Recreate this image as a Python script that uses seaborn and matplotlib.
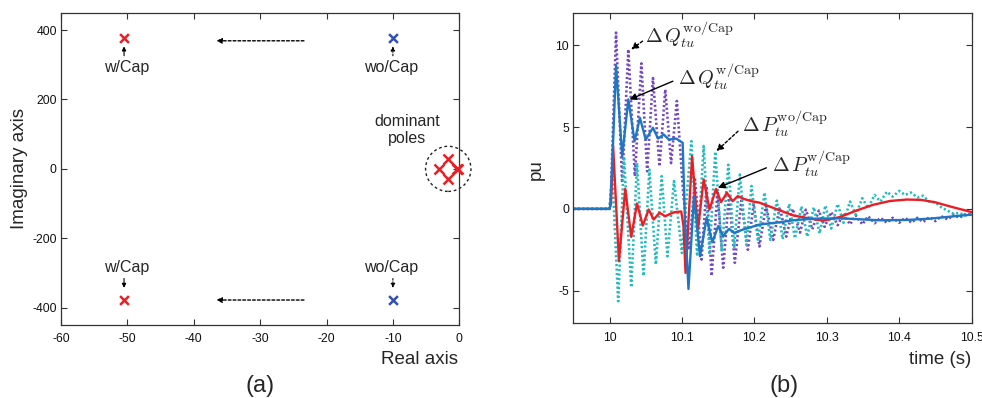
import numpy as np
import pandas as pd
import matplotlib
matplotlib.use("Agg")
import matplotlib.pyplot as plt
import seaborn as sns
from matplotlib.patches import Ellipse

# ---------------- data: pole map ----------------
pole_re_wcap = [-50.5, -50.5]
pole_im_wcap = [377, -377]
pole_re_wocap = [-10.0, -10.0]
pole_im_wocap = [377, -377]
dom_re = [-1.66, -3.1, -1.66, -0.35, -0.15]
dom_im = [27, -1, -28, 0, 0]

# ---------------- data: time responses ----------------
t_q_wo = [9.95, 10.0, 10.002, 10.009, 10.0175, 10.026, 10.035, 10.044, 10.052, 10.060,
          10.069, 10.077, 10.085, 10.093, 10.102, 10.110, 10.118, 10.127, 10.134, 10.141,
          10.149, 10.157, 10.165, 10.173, 10.182, 10.191, 10.199, 10.207, 10.216, 10.226,
          10.235, 10.244, 10.253, 10.263, 10.271, 10.280, 10.289, 10.297, 10.306, 10.315,
          10.323, 10.332, 10.340, 10.349, 10.357, 10.366, 10.374, 10.383, 10.391, 10.400,
          10.408, 10.417, 10.425, 10.433, 10.442, 10.450, 10.458, 10.467, 10.475, 10.483,
          10.492, 10.5]
q_wo = [0, 0, 1.0, 10.78, 1.6, 9.76, 2.0, 8.9, 2.3, 8.0,
        2.6, 7.3, 2.8, 6.6, 0.8, -2.5, 1.8, -3.1, 1.4, -4.1,
        1.0, -3.6, 0.8, -3.3, 0.5, -2.5, 0.3, -2.3, 0.2, -1.9,
        0.1, -1.7, 0.0, -1.45, -0.05, -1.25, -0.1, -1.1, -0.2, -1.0,
        -0.3, -0.95, -0.4, -0.95, -0.45, -0.88, -0.55, -0.85, -0.55, -0.85,
        -0.55, -0.85, -0.55, -0.8, -0.5, -0.75, -0.45, -0.65, -0.35, -0.55,
        -0.3, -0.35]

t_p_wo = [9.95, 10.0, 10.004, 10.012, 10.020, 10.030, 10.038, 10.047, 10.055, 10.064,
          10.072, 10.080, 10.089, 10.100, 10.113, 10.121, 10.130, 10.138, 10.146, 10.155,
          10.164, 10.172, 10.180, 10.189, 10.196, 10.205, 10.214, 10.222, 10.231, 10.239,
          10.248, 10.256, 10.265, 10.273, 10.282, 10.290, 10.298, 10.306, 10.315, 10.323,
          10.332, 10.340, 10.349, 10.357, 10.366, 10.374, 10.383, 10.391, 10.400, 10.408,
          10.416, 10.425, 10.433, 10.441, 10.450, 10.458, 10.466, 10.475, 10.483, 10.491,
          10.5]
p_wo = [0, 0, 2.0, -5.65, 3.2, -4.8, 2.8, -4.1, 2.4, -3.4,
        2.0, -2.9, 1.7, -2.7, 4.14, -2.9, 3.84, -2.8, 3.5, -2.6,
        2.7, -2.4, 2.1, -2.2, 1.4, -2.0, 1.0, -1.9, 0.5, -1.85,
        0.3, -1.8, 0.15, -1.7, 0.1, -1.5, 0.2, -1.2, 0.3, -0.85,
        0.45, -0.35, 0.65, 0.05, 0.85, 0.45, 1.05, 0.75, 1.1, 0.85,
        1.0, 0.7, 0.8, 0.45, 0.4, 0.1, -0.1, -0.3, -0.25, -0.4,
        -0.35]

t_p_w = [9.95, 10.0, 10.002, 10.005, 10.013, 10.0217, 10.030, 10.038, 10.046, 10.054,
         10.061, 10.069, 10.077, 10.084, 10.090, 10.099, 10.102, 10.105, 10.114, 10.122,
         10.130, 10.138, 10.147, 10.154, 10.162, 10.170, 10.177, 10.186, 10.196, 10.207,
         10.226, 10.253, 10.277, 10.295, 10.318, 10.341, 10.364, 10.387, 10.41, 10.43,
         10.45, 10.47, 10.5]
p_w = [0, 0, 0.3, 3.84, -3.2, 1.22, -1.71, 0.33, -1.02, -0.04,
       -0.65, -0.24, -0.45, -0.3, -0.2, -0.16, -1.0, -3.92, 3.22, -1.27,
       1.8, -0.04, 1.22, 0.41, 0.98, 0.47, 0.78, 0.6, 0.47, 0.38,
       0.06, -0.39, -0.6, -0.72, -0.5, -0.1, 0.25, 0.48, 0.57, 0.55,
       0.4, 0.15, -0.2]

t_q_w = [9.95, 10.0, 10.001, 10.004, 10.009, 10.0175, 10.026, 10.0346, 10.042, 10.050,
         10.060, 10.067, 10.0747, 10.082, 10.092, 10.101, 10.104, 10.109, 10.1166, 10.125,
         10.134, 10.142, 10.150, 10.157, 10.165, 10.172, 10.184, 10.207, 10.235, 10.253,
         10.281, 10.32, 10.373, 10.41, 10.442, 10.5]
q_w = [0, 0, 0.2, 3.0, 8.78, 3.2, 6.7, 4.14, 5.57, 4.24,
       4.96, 4.3, 4.55, 4.24, 4.3, 4.04, -0.5, -4.9, 0.78, -2.9,
       -0.55, -2.04, -1.06, -1.67, -1.22, -1.47, -1.27, -0.96, -0.82, -0.70,
       -0.60, -0.58, -0.70, -0.68, -0.60, -0.35]

x_ticks_a = [-60, -50, -40, -30, -20, -10, 0]
y_ticks_a = [-400, -200, 0, 200, 400]
x_ticks_b = [10, 10.1, 10.2, 10.3, 10.4, 10.5]
x_ticklabels_b = ["10", "10.1", "10.2", "10.3", "10.4", "10.5"]
y_ticks_b = [-5, 0, 5, 10]

# ---------------- style ----------------
sns.set_style("ticks")
plt.rcParams["font.family"] = ["Liberation Sans", "DejaVu Sans"]
plt.rcParams["mathtext.fontset"] = "cm"
plt.rcParams["axes.unicode_minus"] = False

RED = "#ee1d23"
NAVY = "#3350b0"
BLUE = "#1f77c4"
PURPLE = "#7448c0"
CYAN = "#22bcc0"
SPINE = "#333333"

fig = plt.figure(figsize=(9.82, 3.98), dpi=100)
ax_a = fig.add_axes([0.0621, 0.1834, 0.4056, 0.7847])
ax_b = fig.add_axes([0.5838, 0.1877, 0.4057, 0.7804])

for ax in (ax_a, ax_b):
    for s in ax.spines.values():
        s.set_color(SPINE)
        s.set_linewidth(0.9)
    ax.tick_params(direction="in", top=True, right=True, length=4, width=0.8,
                   colors=SPINE, labelcolor="#111111", labelsize=8.8)
    ax.tick_params(axis="x", pad=6)
    ax.tick_params(axis="y", pad=3)

# ---------------- (a) pole map ----------------
df_w = pd.DataFrame({"re": pole_re_wcap, "im": pole_im_wcap})
df_wo = pd.DataFrame({"re": pole_re_wocap, "im": pole_im_wocap})
df_dom = pd.DataFrame({"re": dom_re, "im": dom_im})
sns.scatterplot(data=df_w, x="re", y="im", ax=ax_a, marker="x", s=40, color=RED,
                linewidth=1.8, zorder=3)
sns.scatterplot(data=df_wo, x="re", y="im", ax=ax_a, marker="x", s=40, color=NAVY,
                linewidth=1.8, zorder=3)
sns.scatterplot(data=df_dom, x="re", y="im", ax=ax_a, marker="x", s=52, color=RED,
                linewidth=1.8, zorder=3, clip_on=False)

ax_a.set_xlim(-60, 0)
ax_a.set_ylim(-450, 450)
ax_a.set_xticks(x_ticks_a)
ax_a.set_yticks(y_ticks_a)
ax_a.set_xlabel("")
ax_a.set_ylabel("")

ax_a.add_patch(Ellipse((-1.66, 0), width=6.84, height=130, fill=False,
                       ls=(0, (2, 2)), lw=1.0, color="#222222", clip_on=False))
ax_a.text(-7.9, 112, "dominant\npoles", ha="center", va="center", fontsize=11.5,
          linespacing=1.1)

for y0, tail, head in [(291, 326, 353), (-285, -316, -343)]:
    ax_a.text(-50.1, y0, "w/Cap", ha="center", va="center", fontsize=11.5)
    ax_a.text(-10.2, y0, "wo/Cap", ha="center", va="center", fontsize=11.5)
    ax_a.annotate("", xy=(-50.5, head), xytext=(-50.5, tail),
                  arrowprops=dict(arrowstyle="-|>", color="k", lw=0.8,
                                  mutation_scale=6, shrinkA=0, shrinkB=0))
    ax_a.annotate("", xy=(-10.0, head), xytext=(-10.0, tail),
                  arrowprops=dict(arrowstyle="-|>", color="k", lw=0.8, ls=(0, (1.5, 1.5)),
                                  mutation_scale=6, shrinkA=0, shrinkB=0))

for yy in (369, -378):
    ax_a.annotate("", xy=(-36.6, yy), xytext=(-23.4, yy),
                  arrowprops=dict(arrowstyle="-|>", color="k", lw=1.0, ls=(0, (2, 1.5)),
                                  mutation_scale=8, shrinkA=0, shrinkB=0))

# ---------------- (b) time responses ----------------
d_qwo = pd.DataFrame({"t": t_q_wo, "v": q_wo})
d_pwo = pd.DataFrame({"t": t_p_wo, "v": p_wo})
d_pw = pd.DataFrame({"t": t_p_w, "v": p_w})
d_qw = pd.DataFrame({"t": t_q_w, "v": q_w})

dots = (0, (0.8, 0.9))
sns.lineplot(data=d_qwo, x="t", y="v", ax=ax_b, color=PURPLE, lw=1.9, ls=dots,
             estimator=None, sort=False)
sns.lineplot(data=d_pwo, x="t", y="v", ax=ax_b, color=CYAN, lw=1.9, ls=dots,
             estimator=None, sort=False)
sns.lineplot(data=d_pw, x="t", y="v", ax=ax_b, color=RED, lw=1.7,
             estimator=None, sort=False)
sns.lineplot(data=d_qw, x="t", y="v", ax=ax_b, color=BLUE, lw=1.7,
             estimator=None, sort=False)

ax_b.set_xlim(9.95, 10.5)
ax_b.set_ylim(-7, 12)
ax_b.set_xticks(x_ticks_b)
ax_b.set_xticklabels(x_ticklabels_b)
ax_b.set_yticks(y_ticks_b)
ax_b.set_xlabel("")
ax_b.set_ylabel("")

labels_b = [
    (r"$\Delta\, Q_{tu}^{\mathrm{wo/Cap}}$", (10.0484, 10.64), (10.0456, 10.26), (10.030, 9.75), "--"),
    (r"$\Delta\, Q_{tu}^{\mathrm{w/Cap}}$", (10.094, 8.07), (10.0875, 7.81), (10.0277, 6.69), "-"),
    (r"$\Delta\, P_{tu}^{\mathrm{wo/Cap}}$", (10.1825, 5.19), (10.1774, 4.75), (10.1475, 3.53), "--"),
    (r"$\Delta\, P_{tu}^{\mathrm{w/Cap}}$", (10.224, 2.74), (10.2166, 2.51), (10.1497, 1.29), "-"),
]
for txt, pos, tail, head, ls in labels_b:
    ax_b.text(pos[0], pos[1], txt, ha="left", va="center", fontsize=14.5)
    ax_b.annotate("", xy=head, xytext=tail,
                  arrowprops=dict(arrowstyle="-|>", color="k", lw=1.0,
                                  ls=(0, (2, 1.5)) if ls == "--" else "-",
                                  mutation_scale=10, shrinkA=0, shrinkB=0))

# ---------------- figure texts ----------------
fig.text(0.4664, 0.0955, "Real axis", ha="right", va="center", fontsize=13.5)
fig.text(0.0195, 0.577, "Imaginary axis", ha="center", va="center", rotation=90, fontsize=13.5)
fig.text(0.2648, 0.030, "(a)", ha="center", va="center", fontsize=17)
fig.text(0.9888, 0.0955, "time (s)", ha="right", va="center", fontsize=13.5)
fig.text(0.5466, 0.575, "pu", ha="center", va="center", rotation=90, fontsize=13.5)
fig.text(0.7984, 0.030, "(b)", ha="center", va="center", fontsize=17)

fig.savefig("out.png", dpi=100)
